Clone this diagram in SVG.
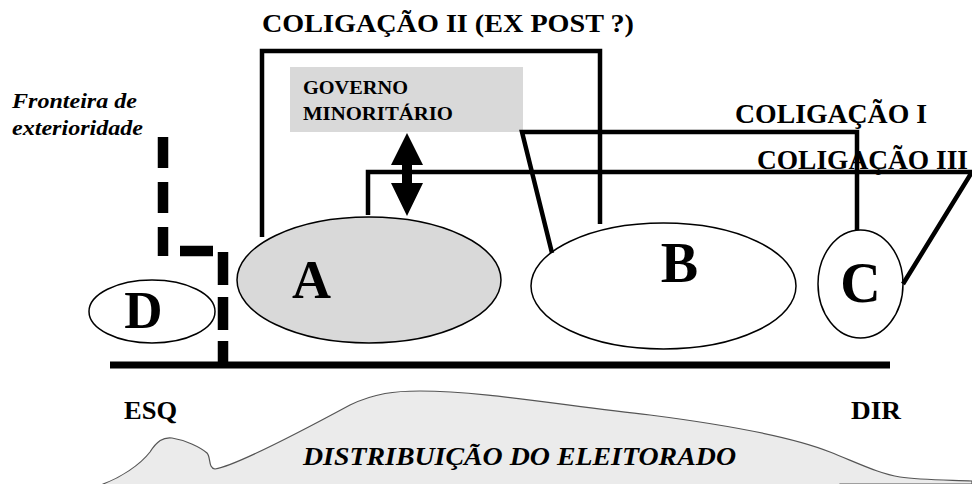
<svg xmlns="http://www.w3.org/2000/svg" width="972" height="484" viewBox="0 0 972 484" font-family="'Liberation Serif', 'Times New Roman', Times, serif">
<style>
.lbl{font-weight:bold;fill:#000}
.it{font-style:italic}
.big{text-anchor:middle}
.node{stroke:#000;stroke-width:1.5}
.bracket{fill:none;stroke:#000;stroke-width:4.5;stroke-linejoin:miter}
.dash{stroke:#000;stroke-width:10.5;fill:none}
</style>
<rect width="972" height="484" fill="#fff"/>
<g id="distribuicao">
<path d="M103,484 C120,478 140,465 150,452 C157,441 163,437 172,438 C185,440 200,447 207,453 C211,457 208,468 215,469 C235,466 300,432 350,405 C375,393 395,391 420,391 C480,391 560,405 650,415 C720,424 790,436 830,452 C860,464 880,474 900,477 C920,480 950,480 972,481 L972,484 L840,484 L840,492 L100,492 Z" fill="#ebebeb" stroke="#555" stroke-width="1.2"/>
<text class="lbl it" x="303" y="465" font-size="25" textLength="433" lengthAdjust="spacingAndGlyphs">DISTRIBUIÇÃO DO ELEITORADO</text>
</g>
<g id="eixo">
<line x1="110" y1="365" x2="890" y2="365" stroke="#000" stroke-width="7"/>
<text class="lbl" x="124" y="419" font-size="26" textLength="53" lengthAdjust="spacingAndGlyphs">ESQ</text>
<text class="lbl" x="851" y="419" font-size="26" textLength="50" lengthAdjust="spacingAndGlyphs">DIR</text>
</g>
<g id="fronteira">
<text class="lbl it" x="12" y="108" font-size="22" textLength="125" lengthAdjust="spacingAndGlyphs">Fronteira de</text>
<text class="lbl it" x="12" y="135" font-size="22" textLength="131" lengthAdjust="spacingAndGlyphs">exterioridade</text>
<path class="dash" d="M163,137 V168 M163,182 V213 M163,227 V256 M180,251 H213 M223,252 V285 M223,297 V330 M223,341 V362"/>
</g>
<g id="node-D">
<ellipse class="node" cx="152" cy="311.5" rx="63" ry="31.5" fill="#fff"/>
<text class="lbl big" x="143.5" y="328" font-size="53">D</text>
</g>
<g id="node-A">
<ellipse class="node" cx="369" cy="280" rx="132" ry="63" fill="#d9d9d9"/>
<text class="lbl big" x="311.5" y="298" font-size="54">A</text>
</g>
<g id="node-B">
<ellipse class="node" cx="663.5" cy="286" rx="132.5" ry="63" fill="#fff"/>
<text class="lbl big" x="679.5" y="282" font-size="56">B</text>
</g>
<g id="node-C">
<ellipse class="node" cx="860.5" cy="284" rx="42.5" ry="54" fill="#fff"/>
<text class="lbl big" x="860.5" y="302" font-size="56">C</text>
</g>
<g id="governo">
<rect x="290" y="67" width="233" height="65" fill="#d9d9d9"/>
<text class="lbl" x="303" y="94" font-size="19" textLength="105" lengthAdjust="spacingAndGlyphs">GOVERNO</text>
<text class="lbl" x="303" y="120" font-size="19" textLength="150" lengthAdjust="spacingAndGlyphs">MINORITÁRIO</text>
</g>
<g id="labels">
<text class="lbl" x="262" y="32" font-size="26" textLength="372" lengthAdjust="spacingAndGlyphs">COLIGAÇÃO II (EX POST ?)</text>
<text class="lbl" x="735" y="123" font-size="27" textLength="192" lengthAdjust="spacingAndGlyphs">COLIGAÇÃO I</text>
<text class="lbl" x="757" y="169" font-size="27" textLength="211" lengthAdjust="spacingAndGlyphs">COLIGAÇÃO III</text>
</g>
<g id="connectors">
<path id="coligacao-II" class="bracket" d="M262,237 V51 H600 V224"/>
<path id="coligacao-I" class="bracket" d="M552,253 L522,132 H857 V230"/>
<path id="coligacao-III" class="bracket" d="M368,215 V172 H972 L903,284"/>
<polygon id="seta" points="407,133 423,165 412,165 412,183 423,183 407,216 391,183 402,183 402,165 391,165" fill="#000"/>
</g>
</svg>
